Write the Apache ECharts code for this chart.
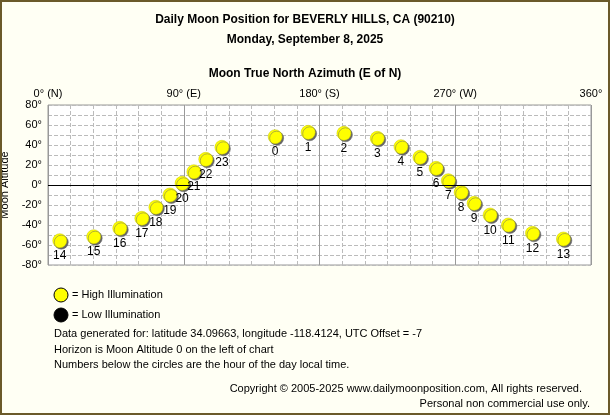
<!DOCTYPE html>
<html><head><meta charset="utf-8">
<script src="https://cdn.jsdelivr.net/npm/echarts@6/dist/echarts.min.js"></script>
<style>html,body{margin:0;padding:0;background:#fffff4;}#c{width:610px;height:415px;box-sizing:border-box;border:2px solid #6b5a2a;}</style>
</head><body><div id="c"></div>
<script>
const hours = [14,15,16,17,18,19,20,21,22,23,0,1,2,3,4,5,6,7,8,9,10,11,12,13];
const azimuth = [7.8,30.3,47.6,62.2,71.5,80.8,88.9,96.7,104.6,115.3,150.6,172.5,196.2,218.3,234,246.6,257.3,265.4,273.9,282.5,293.1,305.2,321.2,341.7];
const altitude = [-55.7,-51.7,-43.3,-33.3,-22.3,-10,1.7,13.3,25.7,37.7,48.3,52.7,51.7,46.7,38.3,27.7,16.7,4.3,-7.3,-18.3,-30,-40,-48.3,-54];
const xTickLabels = {0:'0° (N)',90:'90° (E)',180:'180° (S)',270:'270° (W)',360:'360°'};
const F = 'Liberation Sans, Arial, sans-serif';
const chart = echarts.init(document.getElementById('c'));
const txt = (x,y,t) => ({type:'text',left:x,top:y,style:{text:t,font:'11px '+F,fill:'#000'}});
chart.setOption({
  animation:false,
  textStyle:{fontFamily:F},
  grid:{left:46,right:17,top:103,bottom:148,containLabel:false,outerBoundsMode:'none',show:true,backgroundColor:'#ffffff',borderColor:'#999',borderWidth:1},
  xAxis:{type:'value',position:'top',min:0,max:360,interval:90,
    axisLine:{show:false},axisTick:{show:false},
    axisLabel:{fontSize:11,color:'#000',margin:6,formatter:v=>xTickLabels[v]||''},
    splitLine:{lineStyle:{color:'#999',width:1}},
    minorTick:{show:false,splitNumber:6},
    minorSplitLine:{show:true,lineStyle:{color:'#bbb',type:[4,2]}}},
  yAxis:{type:'value',min:-80,max:80,interval:10,
    name:'Moon Altitude',nameLocation:'middle',nameGap:32,nameTextStyle:{fontSize:11,color:'#000'},
    axisLine:{show:false},axisTick:{show:false},
    axisLabel:{fontSize:11,color:'#000',margin:6,formatter:v=>(v%20===0)?v+'°':''},
    splitLine:{lineStyle:{color:'#bbb',type:[4,2]}}},
  series:[{type:'scatter',symbolSize:14,
    data:azimuth.map((a,i)=>[a,altitude[i],hours[i]]),
    itemStyle:{color:'#ffff00',borderColor:'#c8c800',borderWidth:0.5,shadowColor:'#666',shadowOffsetX:1.5,shadowOffsetY:1.5,shadowBlur:0,opacity:1},
    label:{show:true,position:'bottom',distance:2,formatter:p=>p.data[2],fontSize:12,color:'#000'},
    markLine:{silent:true,symbol:'none',label:{show:false},lineStyle:{color:'#000',width:1,type:'solid'},data:[{yAxis:0}]}
  }],
  graphic:[
    {type:'text',left:'center',top:12,style:{text:'Daily Moon Position for BEVERLY HILLS, CA (90210)',font:'bold 12px '+F,fill:'#000'}},
    {type:'text',left:'center',top:32,style:{text:'Monday, September 8, 2025',font:'bold 12px '+F,fill:'#000'}},
    {type:'text',left:'center',top:66,style:{text:'Moon True North Azimuth (E of N)',font:'bold 12px '+F,fill:'#000'}},
    {type:'circle',shape:{cx:59,cy:293,r:7},style:{fill:'#ffff00',stroke:'#000',lineWidth:1}},
    {type:'circle',shape:{cx:59,cy:313,r:7},style:{fill:'#000',stroke:'#000'}},
    txt(70,287,'= High Illumination'),
    txt(70,307,'= Low Illumination'),
    txt(52,326,'Data generated for: latitude 34.09663, longitude -118.4124, UTC Offset = -7'),
    txt(52,342,'Horizon is Moon Altitude 0 on the left of chart'),
    txt(52,357,'Numbers below the circles are the hour of the day local time.'),
    {type:'text',right:26,top:381,style:{text:'Copyright © 2005-2025 www.dailymoonposition.com, All rights reserved.',font:'11px '+F,fill:'#000'}},
    {type:'text',right:18,top:396,style:{text:'Personal non commercial use only.',font:'11px '+F,fill:'#000'}}
  ]
});
</script></body></html>
